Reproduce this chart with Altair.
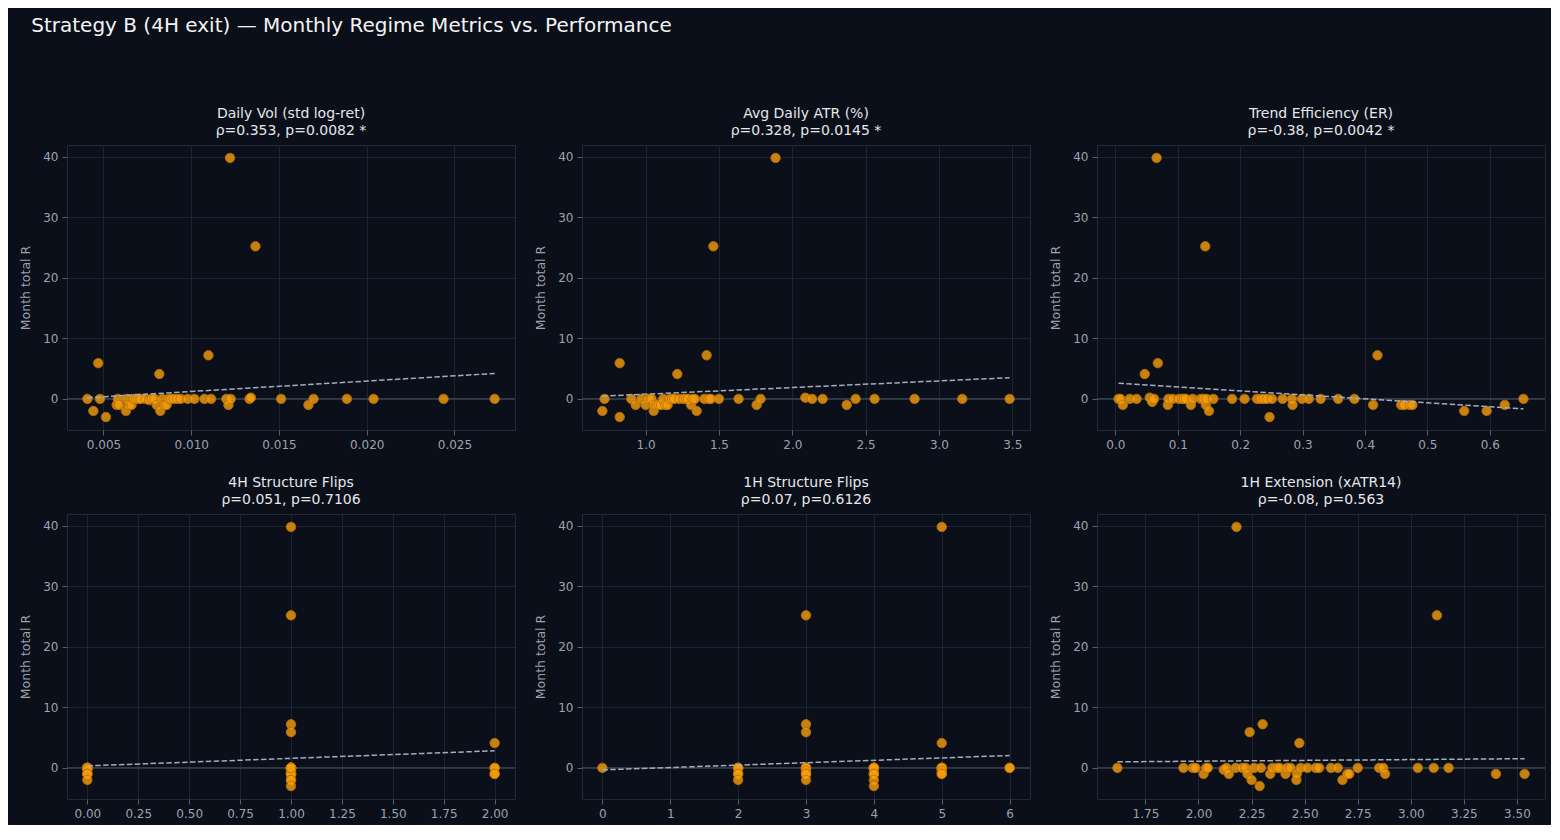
import altair as alt
import pandas as pd

BG = "#0b0f19"
GRID = "#1f2937"
TXT = "#9ca3af"
FONT = "DejaVu Sans"

# ---------- data ----------
vol_x = [0.00408, 0.00442, 0.00470, 0.00480, 0.00514, 0.00575, 0.00582, 0.00590, 0.00628, 0.00632,
         0.00645, 0.00660, 0.00672, 0.00685, 0.00700, 0.00712, 0.00740, 0.00761, 0.00775, 0.00790,
         0.00803, 0.00818, 0.00824, 0.00835, 0.00848, 0.00860, 0.00872, 0.00885, 0.00900, 0.00920,
         0.00940, 0.00980, 0.01018, 0.01075, 0.01098, 0.01113, 0.01200, 0.01212, 0.01221, 0.01225,
         0.01332, 0.01340, 0.01366, 0.01512, 0.01668, 0.01697, 0.01887, 0.02039, 0.02438, 0.02729]
vol_y = [0, -2, 5.9, 0, -3, -1, 0, -1, -2, 0,
         -1, -1, 0, 0, 0, 0, 0, -0.2, 0, 0,
         -1, 4.1, -2, 0, -1, -1, 0, 0, 0, 0,
         0, 0, 0, 0, 7.2, 0, 0, -1, 39.8, 0,
         0, 0.2, 25.2, 0, -1, 0, 0, 0, 0, 0]

atr_x = [0.705, 0.720, 0.823, 0.823, 0.902, 0.932, 0.971, 1.000, 1.020, 1.040,
         1.055, 1.057, 1.075, 1.090, 1.105, 1.120, 1.135, 1.150, 1.165, 1.180,
         1.195, 1.216, 1.230, 1.260, 1.275, 1.290, 1.310, 1.320, 1.335, 1.348,
         1.400, 1.416, 1.430, 1.445, 1.462, 1.500, 1.634, 1.757, 1.784, 1.886,
         2.089, 2.135, 2.207, 2.371, 2.432, 2.561, 2.834, 3.159, 3.482]
atr_y = [-2, 0, 5.9, -3, 0, -1, 0, -1, 0, 0,
         -2, -1, -1, -1, -1, 0, -1, -1, 0, 0,
         0, 4.1, 0, 0, 0, 0, -1, 0, 0, -2,
         0, 7.2, 0, 0, 25.2, 0, 0, -1, 0, 39.8,
         0.2, 0, 0, -1, 0, 0, 0, 0, 0]

er_x = [0.005, 0.008, 0.012, 0.023, 0.034, 0.047, 0.055, 0.059, 0.062, 0.066,
        0.068, 0.084, 0.085, 0.092, 0.102, 0.107, 0.110, 0.113, 0.121, 0.124,
        0.137, 0.141, 0.144, 0.145, 0.146, 0.150, 0.157, 0.187, 0.207, 0.227,
        0.233, 0.238, 0.243, 0.247, 0.251, 0.268, 0.283, 0.284, 0.299, 0.310,
        0.329, 0.357, 0.383, 0.413, 0.420, 0.458, 0.463, 0.472, 0.476, 0.559,
        0.595, 0.624, 0.654]
er_y = [0, 0, -1, 0, 0, 4.1, 0.2, -0.5, 0, 39.8,
        5.9, -1, 0, 0, 0, 0, 0, 0, -1, 0,
        0, 0, 25.2, -1, 0, -2, 0, 0, 0, 0,
        0, 0, 0, -3, 0, 0, 0, -1, 0, 0,
        0, 0, 0, -1, 7.2, -1, -1, -1, -1, -2,
        -2, -1, 0]

f4_x = [0, 0, 0, 0, 0, 0, 0, 0, 0, 0, 0, 0,
        1, 1, 1, 1, 1, 1, 1, 1, 1, 1, 1, 1, 1, 1, 1, 1, 1, 1, 1, 1, 1, 1, 1, 1, 1, 1, 1, 1, 1, 1, 1, 1, 1,
        2, 2, 2, 2, 2]
f4_y = [0, 0, 0, 0, 0, 0, 0, -0.3, -1, -1, -1, -2,
        39.8, 25.2, 7.2, 5.9, 0, 0, 0, 0, 0, 0, 0, 0, 0, 0, 0, 0, 0, 0, 0, 0, 0, 0, -0.5, -1, -1, -1, -1, -1, -2, -2, -3, 0, 0,
        4.1, 0, 0, -1, -1]

f1_x = [0,
        2, 2, 2, 2, 2, 2, 2,
        3, 3, 3, 3, 3, 3, 3, 3, 3, 3, 3, 3, 3, 3, 3,
        4, 4, 4, 4, 4, 4, 4, 4, 4, 4, 4, 4,
        5, 5, 5, 5, 5, 5, 5, 5, 5, 5,
        6, 6]
f1_y = [0,
        0, 0, 0, 0, -1, -1, -2,
        25.2, 7.2, 5.9, 0, 0, 0, 0, 0, 0, 0, -0.5, -1, -1, -1, -2,
        0, 0, 0, 0, 0, 0, 0, -1, -1, -1, -2, -3,
        39.8, 4.1, 0, 0, 0, 0, 0, -0.5, -1, -1,
        0, 0]

ext_x = [1.618, 1.929, 1.973, 1.986, 2.024, 2.036, 2.044, 2.119, 2.132, 2.143,
         2.175, 2.179, 2.206, 2.222, 2.231, 2.241, 2.250, 2.262, 2.288, 2.294,
         2.302, 2.338, 2.348, 2.371, 2.382, 2.410, 2.418, 2.434, 2.461, 2.463,
         2.475, 2.481, 2.513, 2.552, 2.568, 2.624, 2.656, 2.678, 2.701, 2.710,
         2.750, 2.851, 2.870, 2.879, 3.033, 3.108, 3.123, 3.178, 3.401, 3.536]
ext_y = [0, 0, 0, 0, -1, 0, 0, -0.3, 0, -1,
         0, 39.8, 0, 0, -1, 5.9, -2, 0, -3, 0,
         7.2, -1, 0, 0, 0, -1, 0, 0, -2, -1,
         4.1, 0, 0, 0, 0, 0, 0, -2, -1, -1,
         0, 0, 0, -1, 0, 0, 25.2, 0, -1, -1]

# fitted (dashed) line endpoints
fit_x = [[0.00408, 0.02729], [0.705, 3.482], [0.005, 0.654], [0, 2], [0, 6], [1.618, 3.536]]
fit_y = [[0.2, 4.2], [0.45, 3.5], [2.6, -1.65], [0.33, 2.82], [-0.33, 2.04], [1.0, 1.52]]

titles = [
    ["Daily Vol (std log-ret)", "ρ=0.353, p=0.0082 *"],
    ["Avg Daily ATR (%)", "ρ=0.328, p=0.0145 *"],
    ["Trend Efficiency (ER)", "ρ=-0.38, p=0.0042 *"],
    ["4H Structure Flips", "ρ=0.051, p=0.7106"],
    ["1H Structure Flips", "ρ=0.07, p=0.6126"],
    ["1H Extension (xATR14)", "ρ=-0.08, p=0.563"],
]
x_domains = [[0.00292, 0.02845], [0.566, 3.621], [-0.0295, 0.6885], [-0.1, 2.1], [-0.3, 6.3], [1.522, 3.632]]
x_ticks = [
    [0.005, 0.010, 0.015, 0.020, 0.025],
    [1.0, 1.5, 2.0, 2.5, 3.0, 3.5],
    [0.0, 0.1, 0.2, 0.3, 0.4, 0.5, 0.6],
    [0.0, 0.25, 0.5, 0.75, 1.0, 1.25, 1.5, 1.75, 2.0],
    [0, 1, 2, 3, 4, 5, 6],
    [1.75, 2.0, 2.25, 2.5, 2.75, 3.0, 3.25, 3.5],
]
x_formats = [".3f", ".1f", ".1f", ".2f", "d", ".2f"]
y_ticks = [0, 10, 20, 30, 40]
y_domain = [-5.14, 41.94]

xs_all = [vol_x, atr_x, er_x, f4_x, f1_x, ext_x]
ys_all = [vol_y, atr_y, er_y, f4_y, f1_y, ext_y]


def panel(i):
    df = pd.DataFrame({"x": xs_all[i], "y": ys_all[i]})
    fit = pd.DataFrame({"x": fit_x[i], "y": fit_y[i]})
    xsc = alt.Scale(domain=x_domains[i], nice=False, zero=False)
    ysc = alt.Scale(domain=y_domain, nice=False, zero=False)
    xax = alt.Axis(values=x_ticks[i], format=x_formats[i], title=None)
    yax = alt.Axis(values=y_ticks, format="d", title="Month total R")
    zero = alt.Chart(pd.DataFrame({"y": [0]})).mark_rule(
        color="#475569", strokeWidth=1
    ).encode(y=alt.Y("y:Q", scale=ysc, axis=yax))
    pts = alt.Chart(df).mark_circle(
        size=90, color="#f59e0b", fillOpacity=0.8, stroke="#b86e07", strokeWidth=1, strokeOpacity=0.8
    ).encode(
        x=alt.X("x:Q", scale=xsc, axis=xax),
        y=alt.Y("y:Q", scale=ysc, axis=yax),
    )
    line = alt.Chart(fit).mark_line(
        color="#a3adbd", strokeDash=[5.5, 2.4], strokeWidth=1.5
    ).encode(
        x=alt.X("x:Q", scale=xsc, axis=xax),
        y=alt.Y("y:Q", scale=ysc, axis=yax),
    )
    return alt.layer(zero, pts, line).properties(
        width=448, height=285,
        title=alt.TitleParams(titles[i], fontSize=14, font=FONT, color="#e5e7eb",
                              fontWeight="normal", lineHeight=17, offset=7),
    )


row1 = alt.hconcat(panel(0), panel(1), panel(2), spacing=18)
row2 = alt.hconcat(panel(3), panel(4), panel(5), spacing=18)

chart = alt.vconcat(row1, row2, spacing=24).properties(
    background=BG,
    padding={"left": 11, "top": 7, "right": 5, "bottom": 5},
    title=alt.TitleParams("Strategy B (4H exit) — Monthly Regime Metrics vs. Performance",
                          fontSize=20, font=FONT, color="#f3f4f6", fontWeight="normal",
                          anchor="start", offset=71, dx=12),
).configure_view(
    stroke=GRID, strokeWidth=1, fill=BG
).configure_axis(
    gridColor=GRID, gridWidth=0.8, domain=False,
    tickColor="#6b7280", tickSize=5, tickWidth=0.8,
    labelColor=TXT, labelFont=FONT, labelFontSize=12, labelPadding=4,
    titleColor=TXT, titleFont=FONT, titleFontSize=12.5, titleFontWeight="normal", titlePadding=10,
)

chart.save("out.html", embed_options={"renderer": "svg", "actions": False})
